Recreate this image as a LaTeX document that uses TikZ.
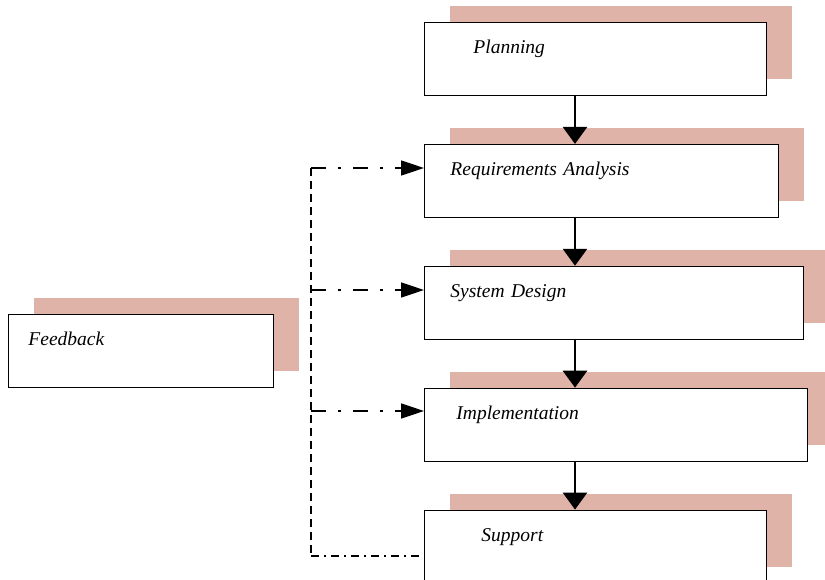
\documentclass[tikz,border=0pt]{standalone}
\usepackage{fontspec}
\setmainfont{Liberation Serif}
\usepackage{tikz}
\usetikzlibrary{shapes,arrows.meta,positioning,calc,shadows}
\definecolor{shadowpink}{RGB}{224,179,168}
\tikzstyle{stage} = [rectangle, draw, line width=0.9pt, fill=white, inner ysep=0pt, text height=31pt, text depth=42pt, align=left, font=\fontsize{19.5}{22}\selectfont\itshape, drop shadow={shadow xshift=26pt, shadow yshift=16pt, fill=shadowpink, opacity=1}]
\tikzstyle{flow} = [line width=2.8pt, -{Triangle[width=24pt,length=17pt]}]
\tikzstyle{loop} = [line width=1.6pt, dash pattern=on 15pt off 12pt on 3pt off 12pt, -{Triangle[width=15pt,length=23pt]}]
\tikzstyle{trunk} = [line width=1.2pt, dash pattern=on 8pt off 5pt]

\begin{document}
\begin{tikzpicture}[x=1pt, y=-1pt, node distance=48pt]
    \useasboundingbox (0,0) rectangle (825,580);
    \clip (0,0) rectangle (825,580);

    \node[stage, anchor=north west, inner xsep=49pt, text width=244pt] (plan) at (424,22) {Planning};
    \node[stage, below=of plan.south west, anchor=north west, inner xsep=26pt, text width=302pt] (req) {Requirements Analysis};
    \node[stage, below=of req.south west, anchor=north west, inner xsep=26pt, text width=327pt] (design) {System Design};
    \node[stage, below=of design.south west, anchor=north west, inner xsep=32pt, text width=319pt] (impl) {Implementation};
    \node[stage, below=of impl.south west, anchor=north west, inner xsep=57pt, text width=228pt] (support) {Support};

    \node[stage, anchor=north west, inner xsep=20pt, text width=225pt] (feedback) at (8,314) {Feedback};

    \coordinate (spine) at (575,0);
    \draw[flow] (plan.south -| spine) -- (req.north -| spine);
    \draw[flow] (req.south -| spine) -- (design.north -| spine);
    \draw[flow] (design.south -| spine) -- (impl.north -| spine);
    \draw[flow] (impl.south -| spine) -- (support.north -| spine);

    \coordinate (fbtop) at (311,168);
    \coordinate (fbdesign) at (311,290);
    \coordinate (fbimpl) at (311,411);
    \coordinate (fbbottom) at (311,556);
    \draw[trunk] (fbtop) -- (fbbottom);
    \draw[loop] (fbtop) -- (fbtop -| req.west);
    \draw[loop] (fbdesign) -- (fbdesign -| design.west);
    \draw[loop] (fbimpl) -- (fbimpl -| impl.west);
    \draw[line width=1.2pt, dash pattern=on 8pt off 5pt on 2pt off 5pt] (fbbottom) -- (fbbottom -| support.west);
\end{tikzpicture}
\end{document}
